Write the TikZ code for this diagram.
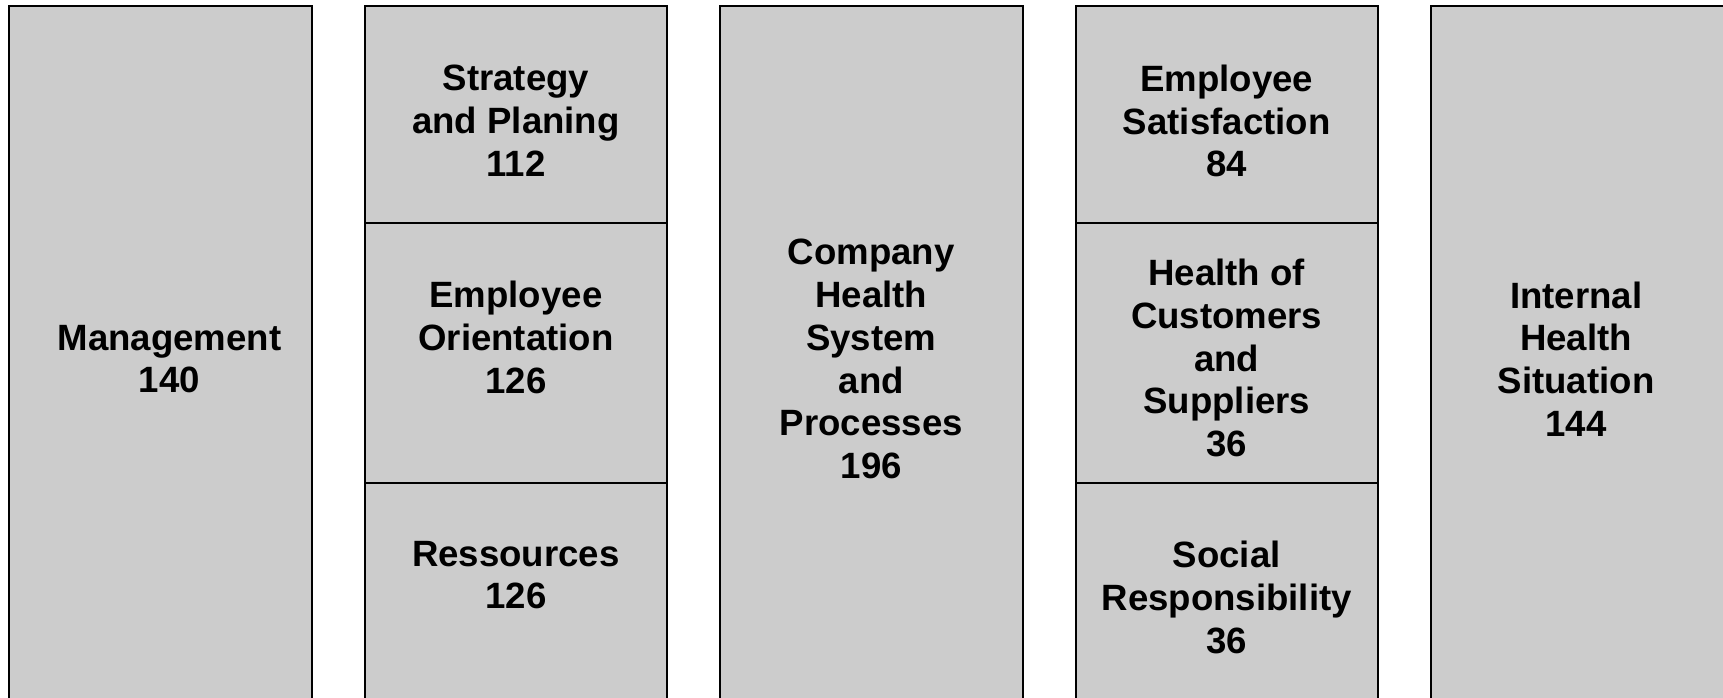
\documentclass[tikz,border=0pt]{standalone}
\usepackage{fontspec}
\setmainfont{Liberation Sans}
\usetikzlibrary{positioning}
\definecolor{cellgray}{RGB}{204,204,204}
\tikzset{
  colbox/.style= {
    rectangle,
    draw = black,
    fill = cellgray,
    line width = 1pt,
    outer sep = 0pt,
    inner sep = 0pt,
    minimum width = 151.2pt,
    minimum height = #1
  },
  colbox/.default = 353pt,
  cellbox/.style= {
    colbox = #1
  },
  celllabel/.style= {
    align = center,
    font = \fontsize{18.3}{21.4}\selectfont\bfseries,
    inner sep = 0pt
  }
}

\begin{document}
\begin{tikzpicture}

  \useasboundingbox (0,0) rectangle (861.5pt,348.5pt);
  \clip (0,0) rectangle (861.5pt,348.5pt);

  % management
  \node[colbox,anchor=north west] (mgmt) at (4.65pt,345.5pt) {};
  \node[celllabel] (mgmt-lbl) at ([xshift=4.5pt]mgmt.center) {Management\\140};

  % strategy, orientation, ressources
  \node[cellbox=108.5pt,below right=0pt and 26.5pt of mgmt.north east] (strat) {};
  \node[cellbox=129.75pt,below=0pt of strat] (orient) {};
  \node[cellbox=114.75pt,below=0pt of orient] (res) {};
  \node[celllabel] (strat-lbl) at ([yshift=-3.25pt]strat.center) {Strategy\\and Planing\\112};
  \node[celllabel] (orient-lbl) at ([yshift=7.6pt]orient.center) {Employee\\Orientation\\126};
  \node[celllabel] (res-lbl) at ([yshift=11.1pt]res.center) {Ressources\\126};

  % processes
  \node[colbox,below right=0pt and 26.5pt of strat.north east] (proc) {};
  \node[celllabel] (proc-lbl) at (proc.center) {Company\\Health\\System\\and\\Processes\\196};

  % satisfaction, customers, social
  \node[cellbox=108.5pt,below right=0pt and 26.5pt of proc.north east] (satis) {};
  \node[cellbox=129.75pt,below=0pt of satis] (cust) {};
  \node[cellbox=114.75pt,below=0pt of cust] (social) {};
  \node[celllabel] (satis-lbl) at ([yshift=-3.25pt]satis.center) {Employee\\Satisfaction\\84};
  \node[celllabel] (cust-lbl) at ([yshift=-2.6pt]cust.center) {Health of\\Customers\\and\\Suppliers\\36};
  \node[celllabel] (social-lbl) at (social.center) {Social\\Responsibility\\36};

  % internal situation
  \node[colbox,below right=0pt and 26.5pt of satis.north east] (internal) {};
  \node[celllabel] (internal-lbl) at ([xshift=-3pt]internal.center) {Internal\\Health\\Situation\\144};

\end{tikzpicture}
\end{document}
